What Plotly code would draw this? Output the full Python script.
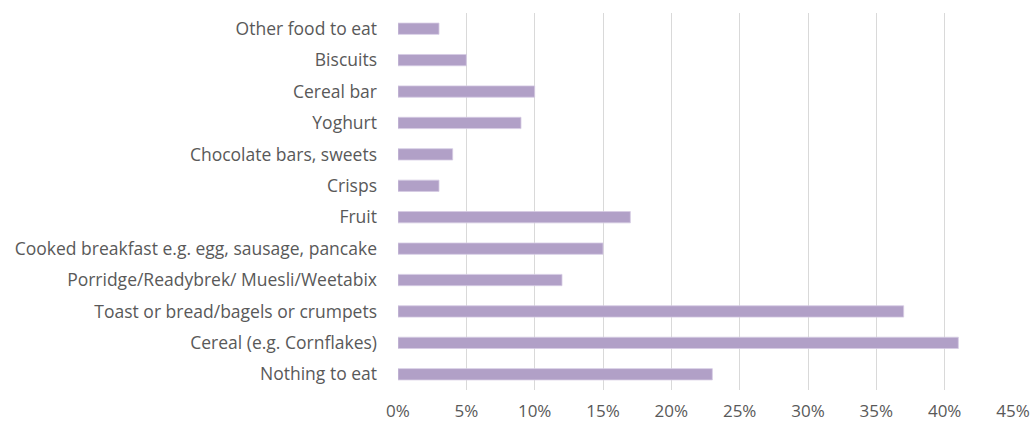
import plotly.graph_objects as go

# Breakfast items, listed bottom to top as they appear on the axis
categories = [
    "Nothing to eat",
    "Cereal (e.g. Cornflakes)",
    "Toast or bread/bagels or crumpets",
    "Porridge/Readybrek/ Muesli/Weetabix",
    "Cooked breakfast e.g. egg, sausage, pancake",
    "Fruit",
    "Crisps",
    "Chocolate bars, sweets",
    "Yoghurt",
    "Cereal bar",
    "Biscuits",
    "Other food to eat",
]
shares = [0.23, 0.41, 0.37, 0.12, 0.15, 0.17, 0.03, 0.04, 0.09, 0.10, 0.05, 0.03]
tick_values = [0, 0.05, 0.10, 0.15, 0.20, 0.25, 0.30, 0.35, 0.40, 0.45]
tick_labels = ["0%", "5%", "10%", "15%", "20%", "25%", "30%", "35%", "40%", "45%"]

fig = go.Figure(
    go.Bar(
        x=shares,
        y=categories,
        orientation="h",
        marker=dict(color="#B1A0C7", line=dict(color="#D6CCE3", width=0.8)),
        width=0.36,
    )
)

fig.update_layout(
    width=1030,
    height=424,
    margin=dict(l=398, r=17, t=13, b=34),
    paper_bgcolor="white",
    plot_bgcolor="white",
    font=dict(family="Open Sans, sans-serif", size=17.5, color="#595959"),
    showlegend=False,
)
fig.update_xaxes(
    range=[0, 0.45],
    tickvals=tick_values,
    ticktext=tick_labels,
    tickfont=dict(size=17),
    ticklabeloverflow="allow",
    automargin=False,
    showgrid=True,
    gridcolor="#D9D9D9",
    gridwidth=1,
    zeroline=False,
    showline=False,
    ticks="",
    ticklabelstandoff=9,
)
fig.update_yaxes(
    categoryorder="array",
    categoryarray=categories,
    automargin=False,
    showgrid=False,
    zeroline=False,
    showline=False,
    ticks="",
    ticklabelstandoff=20,
)

fig.write_html("out.html")
